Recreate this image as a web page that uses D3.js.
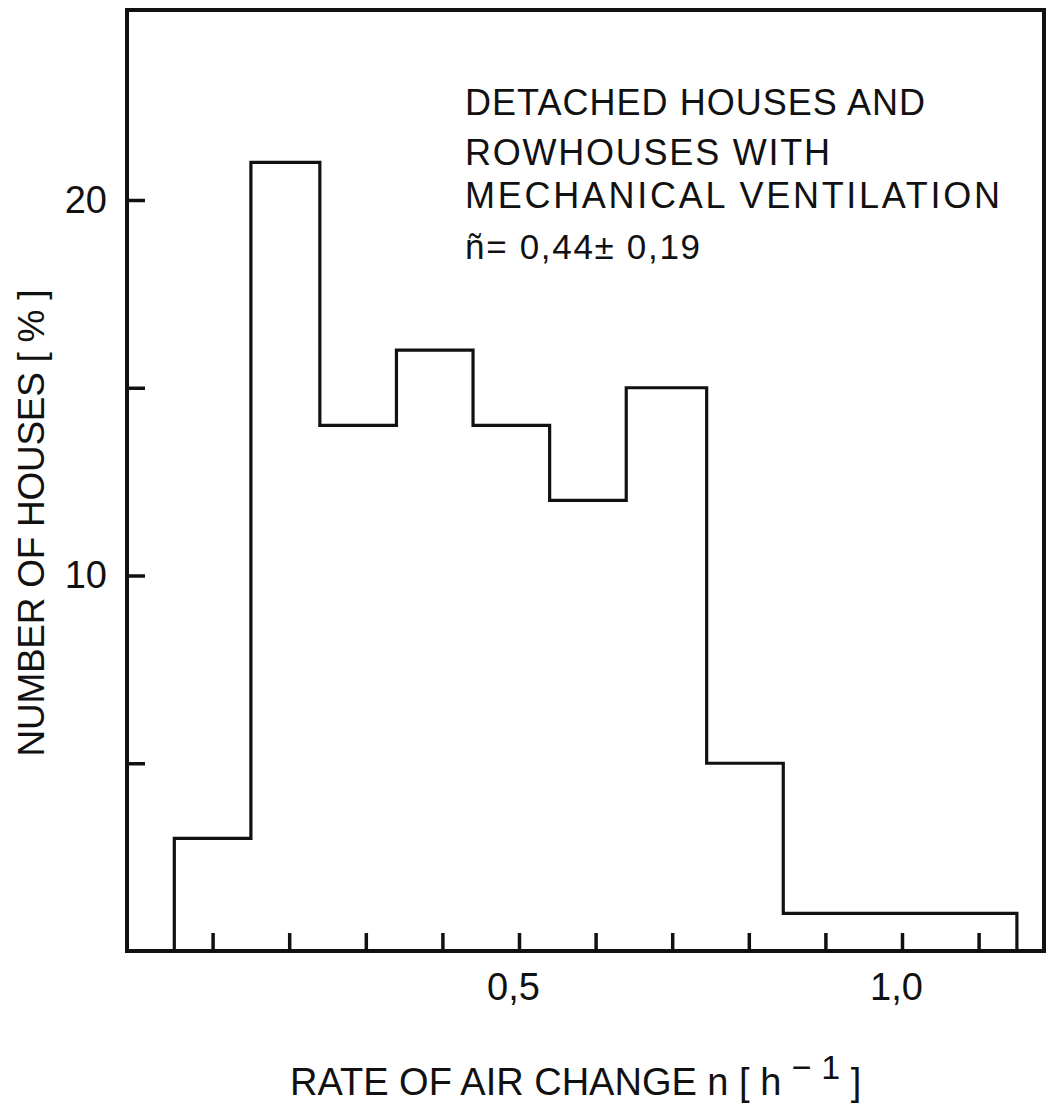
<!DOCTYPE html>
<html>
<head>
<meta charset="utf-8">
<script src="https://cdn.jsdelivr.net/npm/d3@7"></script>
<style>
  body { margin: 0; background: #fff; }
  text { font-family: "Liberation Sans", Arial, sans-serif; fill: #111; }
</style>
</head>
<body>
<div id="chart"></div>
<script>
// histogram: share of houses per air change class
var binEdges = [0.05, 0.15, 0.24, 0.34, 0.44, 0.54, 0.64, 0.745, 0.845, 1.15];
var percents = [3, 21, 14, 16, 14, 12, 15, 5, 1];

var xTicks = [0.1, 0.2, 0.3, 0.4, 0.5, 0.6, 0.7, 0.8, 0.9, 1.0, 1.1];
var xLabels = { 0.5: "0,5", 1: "1,0" };
var yTicks = [5, 10, 15, 20];
var yLabels = { 10: "10", 20: "20" };

var noteLines = ["DETACHED HOUSES AND", "ROWHOUSES WITH", "MECHANICAL VENTILATION", "ñ= 0,44± 0,19"];
var noteWidths = [460, 365, 535, 235];

var width = 1046, height = 1108;
var box = { left: 127, right: 1044, top: 10, bottom: 951 };

var svg = d3.select("#chart").append("svg")
    .attr("width", width).attr("height", height);

var x = d3.scaleLinear().domain([0, 1]).range([136, 902]);
var y = d3.scaleLinear().domain([0, 20]).range([box.bottom, 200]);

// frame
svg.append("rect")
    .attr("x", box.left).attr("y", box.top)
    .attr("width", box.right - box.left).attr("height", box.bottom - box.top)
    .attr("fill", "none").attr("stroke", "#111").attr("stroke-width", 4);

// axes, ticks point inward
var xAxis = d3.axisBottom(x).tickValues(xTicks).tickSize(-18).tickPadding(22)
    .tickFormat(function(d) { return xLabels[d] || ""; });
var gx = svg.append("g").attr("transform", "translate(0," + box.bottom + ")").call(xAxis);
gx.select(".domain").remove();
gx.selectAll(".tick text").attr("dx", -6);

var yAxis = d3.axisLeft(y).tickValues(yTicks).tickSize(-18).tickPadding(20)
    .tickFormat(function(d) { return yLabels[d] || ""; });
var gy = svg.append("g").attr("transform", "translate(" + box.left + ",0)").call(yAxis);
gy.select(".domain").remove();

svg.selectAll(".tick line").attr("stroke", "#111").attr("stroke-width", 3.5);
svg.selectAll(".tick text")
    .attr("font-family", "'Liberation Sans Narrow', 'DejaVu Sans Condensed', sans-serif")
    .attr("font-size", 38).attr("fill", "#111");

// step outline
var pts = [[binEdges[0], 0]];
for (var t = 0; t < percents.length; t++) {
  pts.push([binEdges[t], percents[t]]);
}
var lastEnd = binEdges[binEdges.length - 1];
pts.push([lastEnd, percents[percents.length - 1]]);
pts.push([lastEnd, 0]);

var line = d3.line()
    .x(function(d) { return x(d[0]); })
    .y(function(d) { return y(d[1]); })
    .curve(d3.curveStepAfter);

svg.append("path")
    .attr("d", line(pts))
    .attr("fill", "none").attr("stroke", "#111")
    .attr("stroke-width", 3.2).attr("stroke-linejoin", "miter");

// annotation
var noteY = [115, 165, 208, 259];
noteLines.forEach(function(s, k) {
  svg.append("text")
      .attr("x", 465).attr("y", noteY[k])
      .attr("font-size", k == 3 ? 35 : 36)
      .attr("textLength", noteWidths[k]).attr("lengthAdjust", "spacing")
      .text(s);
});

// axis titles
svg.append("text")
    .attr("transform", "translate(44,523) rotate(-90)")
    .attr("text-anchor", "middle").attr("font-size", 37)
    .attr("textLength", 467).attr("lengthAdjust", "spacing")
    .text("NUMBER OF HOUSES [ % ]");

var xt = svg.append("text").attr("x", 290).attr("y", 1095).attr("font-size", 38);
xt.append("tspan").text("RATE OF AIR CHANGE n [ h ");
xt.append("tspan").attr("dy", -16).attr("font-size", 34).text("− 1");
xt.append("tspan").attr("dy", 16).text(" ]");
</script>
</body>
</html>
